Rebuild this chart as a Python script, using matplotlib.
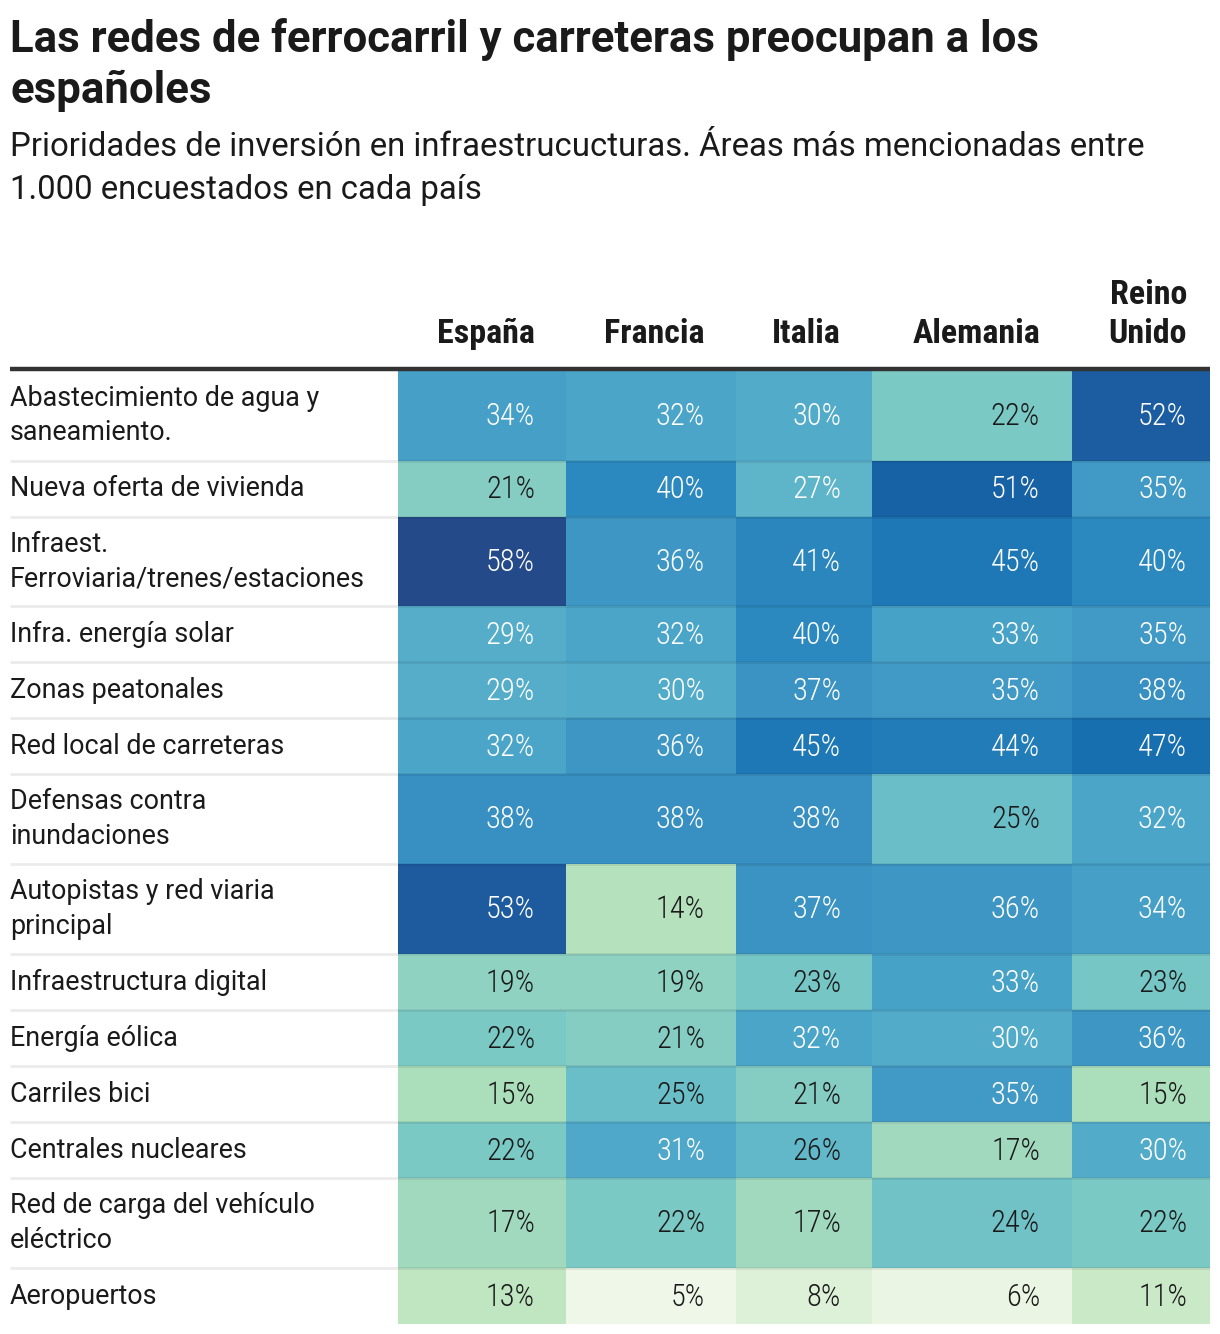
import matplotlib
matplotlib.use("Agg")
import matplotlib.pyplot as plt
import numpy as np
from matplotlib.colors import LinearSegmentedColormap, Normalize
from matplotlib import font_manager

title_lines = ["Las redes de ferrocarril y carreteras preocupan a los", "españoles"]
subtitle_lines = ["Prioridades de inversión en infraestrucucturas. Áreas más mencionadas entre",
                  "1.000 encuestados en cada país"]

countries = ["España", "Francia", "Italia", "Alemania", "Reino\nUnido"]

categories = [
    "Abastecimiento de agua y\nsaneamiento.",
    "Nueva oferta de vivienda",
    "Infraest.\nFerroviaria/trenes/estaciones",
    "Infra. energía solar",
    "Zonas peatonales",
    "Red local de carreteras",
    "Defensas contra\ninundaciones",
    "Autopistas y red viaria\nprincipal",
    "Infraestructura digital",
    "Energía eólica",
    "Carriles bici",
    "Centrales nucleares",
    "Red de carga del vehículo\neléctrico",
    "Aeropuertos",
]

espana = [34, 21, 58, 29, 29, 32, 38, 53, 19, 22, 15, 22, 17, 13]
francia = [32, 40, 36, 32, 30, 36, 38, 14, 19, 21, 25, 31, 22, 5]
italia = [30, 27, 41, 40, 37, 45, 38, 37, 23, 32, 21, 26, 17, 8]
alemania = [22, 51, 45, 33, 35, 44, 25, 36, 33, 30, 35, 17, 24, 6]
reino_unido = [52, 35, 40, 35, 38, 47, 32, 34, 23, 36, 15, 30, 22, 11]

values = np.array([espana, francia, italia, alemania, reino_unido]).T

# ---- layout (pixel coordinates) ----
W, H = 1220, 1334
col_edges = [398, 566, 736, 872, 1072, 1210]
row_edges = [370, 461, 517, 606, 662, 718, 774, 864, 954, 1010, 1066, 1122, 1178, 1268, 1324]
text_x = [535, 705, 841, 1040, 1187]

anchor_vals = [5, 8, 11, 13, 14, 15, 17, 19, 21, 22, 24, 25, 26, 29, 30, 32, 34, 35, 36, 38, 40, 41, 45, 47, 51, 52, 53, 58]
anchor_cols = ["#eff8e8", "#dcf0d7", "#c9e9c6", "#bee5c1", "#b4e1bc", "#abdfbb", "#a0d8bf", "#8fd2c2",
               "#85cdc3", "#7bc9c4", "#6fc2c7", "#6abec8", "#62b8c9", "#56adc9", "#53abca", "#4aa5c9",
               "#45a0c7", "#4199c5", "#3d96c3", "#3790c1", "#2c8abf", "#2a86bc", "#1e79b6", "#186fb0",
               "#1762a6", "#1a5da0", "#1d5b9e", "#254a8a"]
vmin, vmax = anchor_vals[0], anchor_vals[-1]
cmap = LinearSegmentedColormap.from_list(
    "custom", [((v - vmin) / (vmax - vmin), c) for v, c in zip(anchor_vals, anchor_cols)])
norm = Normalize(vmin, vmax)

available = {f.name for f in font_manager.fontManager.ttflist}
narrow_candidates = ["Liberation Sans Narrow", "Roboto Condensed", "Open Sans Condensed", "Roboto"]
narrow_name = next((n for n in narrow_candidates if n in available), "Roboto")

fig = plt.figure(figsize=(W / 100, H / 100), dpi=100)
ax = fig.add_axes([0, 0, 1, 1])
ax.set_xlim(0, W)
ax.set_ylim(H, 0)
ax.axis("off")

body_font = ["Roboto", "DejaVu Sans"]
narrow_font = [narrow_name, "DejaVu Sans"]
ink = "#1a1a1a"

# title
ax.text(10, 52, title_lines[0], fontsize=31.5, fontweight="bold", family=body_font, color=ink)
ax.text(10, 103, title_lines[1], fontsize=31.5, fontweight="bold", family=body_font, color=ink)
ax.text(10, 156, subtitle_lines[0], fontsize=23.7, family=body_font, color=ink)
ax.text(10, 199, subtitle_lines[1], fontsize=23.7, family=body_font, color=ink)

# headers
for x, c in zip(text_x, countries):
    ax.text(x, 343, c, ha="right", va="baseline", fontsize=24.5, fontweight="bold",
            family=narrow_font, color=ink, linespacing=1.3)

# cells
ax.pcolormesh(col_edges, row_edges, values, cmap=cmap, norm=norm, shading="flat")

# row separators
for y in row_edges[1:-1]:
    ax.plot([10, 1210], [y, y], color="black", alpha=0.08, lw=2.0, solid_capstyle="butt")

# header rule
ax.plot([10, 1210], [369, 369], color="#333333", lw=3.2, solid_capstyle="butt")

# labels and values
for i, cat in enumerate(categories):
    yc = (row_edges[i] + row_edges[i + 1]) / 2
    ax.text(10, yc, cat, ha="left", va="center", fontsize=19.4, family=body_font,
            color=ink, linespacing=1.34)
    for j in range(values.shape[1]):
        v = values[i, j]
        ax.text(text_x[j], yc + 1, f"{v}%", ha="right", va="center", fontsize=22,
                fontweight="light", family=narrow_font,
                color="white" if v >= 27 else ink)

fig.savefig("out.png", dpi=100)
